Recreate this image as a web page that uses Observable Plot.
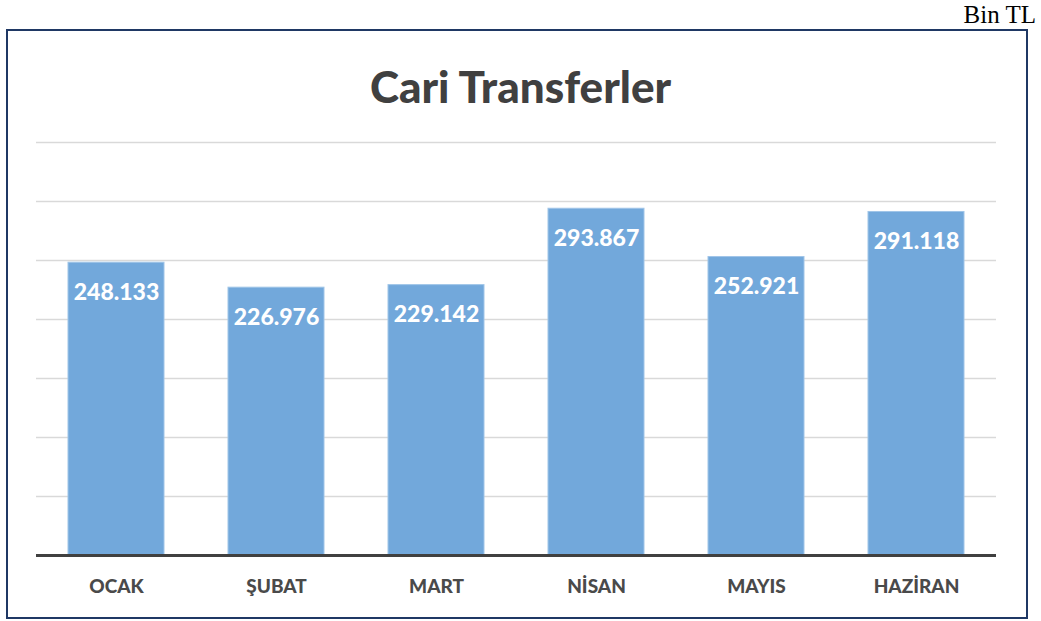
<!DOCTYPE html>
<html>
<head>
<meta charset="utf-8">
<script src="https://cdn.jsdelivr.net/npm/d3@7"></script>
<script src="https://cdn.jsdelivr.net/npm/@observablehq/plot@0.6"></script>
<style>
  html, body { margin: 0; padding: 0; background: #fff; }
  #wrap { position: relative; width: 1041px; height: 621px; overflow: hidden; }
  #frame { position: absolute; left: 6px; top: 29px; width: 1018px; height: 586px; border: 2px solid #1f3864; box-sizing: content-box; }
  #unit { position: absolute; right: 5px; top: 1px; font-family: "Liberation Serif", "DejaVu Serif", serif; font-size: 25px; color: #000; }
  #title { position: absolute; left: 0; width: 1041px; top: 60px; text-align: center; font-family: Lato, "Open Sans", sans-serif; font-weight: 900; font-size: 44px; color: #404040; }
  #chart { position: absolute; left: 0; top: 0; }
</style>
</head>
<body>
<div id="wrap">
  <div id="frame"></div>
  <div id="unit">Bin TL</div>
  <div id="title">Cari Transferler</div>
  <div id="chart"></div>
</div>
<script>
const months = ["OCAK", "ŞUBAT", "MART", "NİSAN", "MAYIS", "HAZİRAN"];
const values = [248133, 226976, 229142, 293867, 252921, 291118];
const labels = ["248.133", "226.976", "229.142", "293.867", "252.921", "291.118"];
const gridTicks = [50000, 100000, 150000, 200000, 250000, 300000, 350000];

const data = months.map((m, i) => ({month: m, value: values[i], label: labels[i]}));

const chart = Plot.plot({
  width: 1041,
  height: 621,
  marginLeft: 36,
  marginRight: 45,
  marginTop: 142,
  marginBottom: 66,
  style: {background: "transparent", overflow: "visible"},
  x: {domain: months, paddingInner: 0.4, paddingOuter: 0.2, label: null},
  y: {domain: [0, 350000], axis: null},
  marks: [
    Plot.ruleY(gridTicks, {stroke: "#d9d9d9", strokeWidth: 1.3}),
    Plot.barY(data, {x: "month", y: "value", fill: "#72a8db", stroke: "#a0c5e8", strokeWidth: 1}),
    Plot.text(data, {x: "month", y: "value", text: "label", dy: 30, fill: "#ffffff", fontSize: 23, fontWeight: 900, fontFamily: "Lato, 'Open Sans', sans-serif"}),
    Plot.ruleY([0], {stroke: "#404040", strokeWidth: 3}),
    Plot.axisX({tickSize: 0, tickPadding: 24, fontSize: 19, fontWeight: 900, fontFamily: "Lato, 'Open Sans', sans-serif", fill: "#4a4a4a", label: null})
  ]
});
document.getElementById("chart").append(chart);
</script>
</body>
</html>
